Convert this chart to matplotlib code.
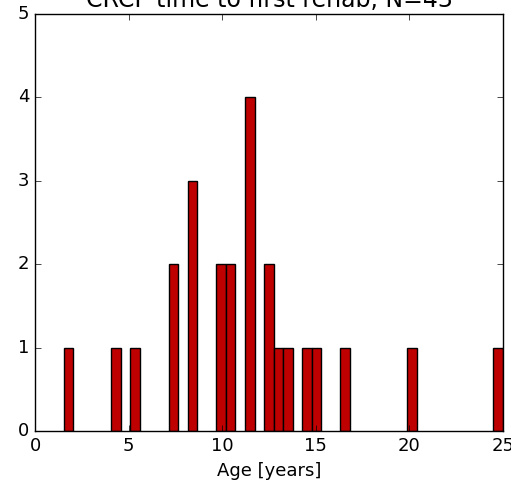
import numpy as np
import matplotlib
matplotlib.use('Agg')
import matplotlib.pyplot as plt

plt.style.use('classic')

# histogram of years until first rehab (bins of 0.51 yr, only bins inside 0-25 shown)
bin_width = 0.51
bin_left = [1.53, 4.08, 5.10, 7.14, 8.16, 9.69, 10.20, 11.22, 12.24, 12.75,
            13.26, 14.28, 14.79, 16.32, 19.89, 24.48]
counts = [1, 1, 1, 2, 3, 2, 2, 4, 2, 1, 1, 1, 1, 1, 1, 1]
n_total = 43

fig = plt.figure(figsize=(5.11, 4.82), dpi=100)
ax = fig.add_axes([0.0685, 0.1058, 0.9158, 0.8652])

ax.bar(bin_left, counts, width=bin_width, align='edge',
       color='#bf0000', edgecolor='black', linewidth=1)

ax.set_xlim(0, 25)
ax.set_ylim(0, 5)
ax.set_xticks([0, 5, 10, 15, 20, 25])
ax.set_yticks([0, 1, 2, 3, 4, 5])
ax.tick_params(labelsize=13)
ax.set_xlabel('Age [years]', fontsize=13)
ax.set_title('CRCP time to first rehab, N=%d' % n_total, fontsize=17)

fig.savefig('out.png', dpi=100)
